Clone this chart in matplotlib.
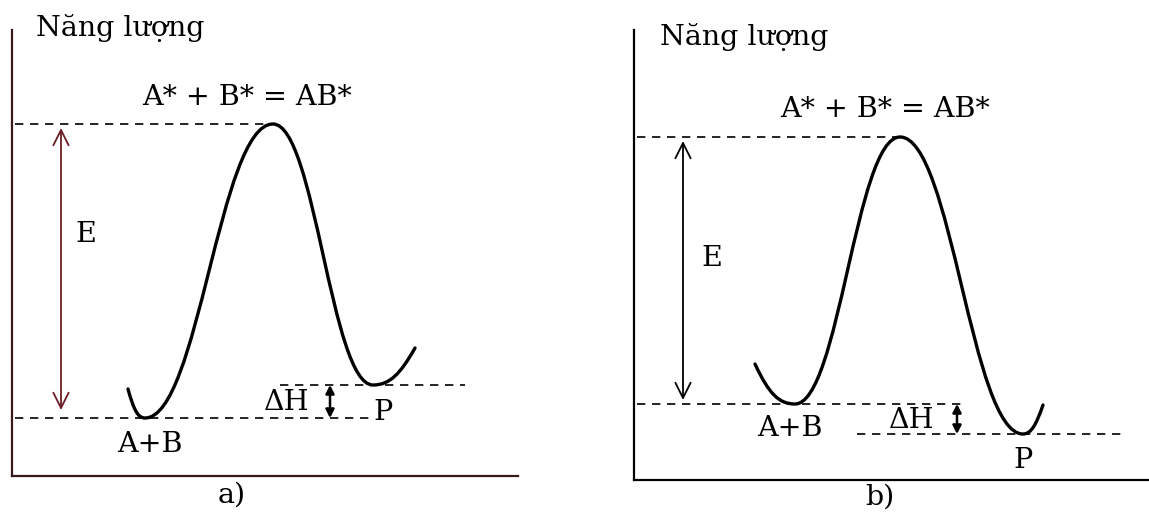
import matplotlib
matplotlib.use("Agg")
import matplotlib.pyplot as plt
from matplotlib.path import Path
from matplotlib.patches import PathPatch

# ---- data (energy diagram key values, per panel) ----
panel_labels = ["a)", "b)"]
axis_title = "Năng lượng"
peak_label = "A* + B* = AB*"
# energy levels
E_reactant = [58, 76]
E_peak = [352, 343]
E_product = [91, 46]
E_start = [87, 116]
E_end = [128, 75]
# reaction coordinate of curve key points
x_start = [116, 121]
x_react = [133, 161]
x_peak = [261, 266]
x_prod = [361, 389]
x_end = [403, 409]

W, H = 1149, 521
fig = plt.figure(figsize=(W / 100, H / 100), dpi=100)
fig.patch.set_facecolor("white")

# axes rectangles in pixel units: left, right, top, bottom
boxes = [(12, 518, 30, 476), (634, 1149, 30, 480)]
spine_colors = ["#3a1818", "black"]
E_arrow_colors = ["#6a1c24", "black"]

FONT = "DejaVu Serif"
FS = 20.5

for i, (l, r, t, b) in enumerate(boxes):
    ax = fig.add_axes([l / W, 1 - b / H, (r - l) / W, (b - t) / H])
    ax.set_xlim(0, r - l)
    ax.set_ylim(0, b - t)
    for s in ("top", "right"):
        ax.spines[s].set_visible(False)
    for s in ("left", "bottom"):
        ax.spines[s].set_linewidth(1.6)
        ax.spines[s].set_color(spine_colors[i])
    ax.set_xticks([])
    ax.set_yticks([])
    ax.patch.set_alpha(0)

    # energy curve as bezier path
    k = 0.42
    xs, xr, xp, xq, xe = x_start[i], x_react[i], x_peak[i], x_prod[i], x_end[i]
    ys, yr, yp, yq, ye = E_start[i], E_reactant[i], E_peak[i], E_product[i], E_end[i]
    verts = [
        (xs, ys),
        (xs + 0.35 * (xr - xs), ys - 0.75 * (ys - yr)), (xr - 0.4 * (xr - xs), yr), (xr, yr),
        (xr + k * (xp - xr), yr), (xp - k * (xp - xr), yp), (xp, yp),
        (xp + k * (xq - xp), yp), (xq - k * (xq - xp), yq), (xq, yq),
        (xq + 0.4 * (xe - xq), yq), (xe - 0.35 * (xe - xq), ye - 0.7 * (ye - yq)), (xe, ye),
    ]
    codes = [Path.MOVETO] + [Path.CURVE4] * 12
    ax.add_patch(PathPatch(Path(verts, codes), fill=False, lw=2.4, color="black",
                           capstyle="round", clip_on=False))

    dash = dict(color="black", lw=1.2, linestyle=(0, (5, 4)))
    # dashed levels
    ax.plot([3, xp - 3 if i == 0 else xp + 7], [yp, yp], **dash)
    ax.plot([3, [358, 331][i]], [yr, yr], **dash)
    ax.plot([[268, 223][i], [453, 493][i]], [yq, yq], **dash)

    # E arrow
    ax.annotate("", xy=(49, yp - 4), xytext=(49, yr + [8, 4][i]),
                arrowprops=dict(arrowstyle="<->,head_length=0.5,head_width=0.25",
                                color=E_arrow_colors[i], lw=1.3, mutation_scale=22,
                                shrinkA=0, shrinkB=0))
    # dH arrow
    xdh = [318, 323][i]
    ax.annotate("", xy=(xdh, max(yr, yq)), xytext=(xdh, min(yr, yq)),
                arrowprops=dict(arrowstyle="<|-|>,head_length=0.35,head_width=0.18",
                                color="black", lw=1.8, mutation_scale=14,
                                shrinkA=0, shrinkB=0))

    # texts
    ax.text([24, 26][i], [440, 435][i], axis_title, family=FONT, fontsize=FS,
            ha="left", va="baseline", clip_on=False)
    ax.text([235, 251][i], [371, 363][i], peak_label, family=FONT, fontsize=FS,
            ha="center", va="baseline", clip_on=False)
    ax.text([74, 78][i], [241, 222][i], "E", family=FONT, fontsize=FS,
            ha="center", va="center")
    ax.text([275, 278][i], [73, 60][i], "ΔH", family=FONT, fontsize=FS,
            ha="center", va="center")
    ax.text([371, 389][i], [63, 20][i], "P", family=FONT, fontsize=FS,
            ha="center", va="center")
    ax.text([138, 156][i], [31, 52][i], "A+B", family=FONT, fontsize=FS,
            ha="center", va="center")
    ax.text([220, 246][i], [-19, -17][i], panel_labels[i], family=FONT, fontsize=FS,
            ha="center", va="center", clip_on=False)

fig.savefig("out.png", dpi=100, facecolor="white")
